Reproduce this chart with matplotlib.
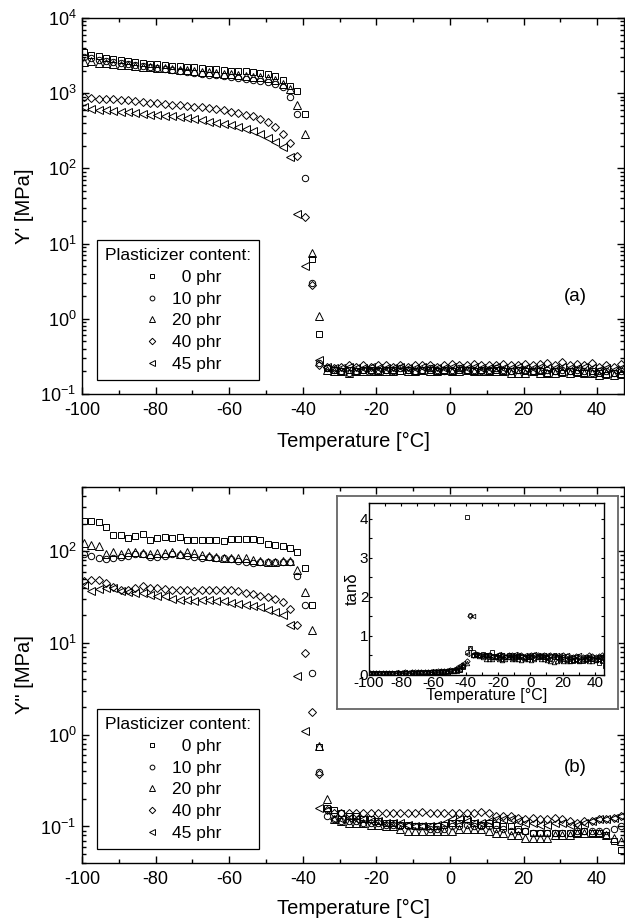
import numpy as np
import matplotlib
matplotlib.use("Agg")
import matplotlib.pyplot as plt
from matplotlib import font_manager
from matplotlib.ticker import MultipleLocator, LogLocator

plt.rcParams['font.family'] = ['Liberation Sans', 'DejaVu Sans']
plt.rcParams['mathtext.fontset'] = 'custom'
plt.rcParams['mathtext.rm'] = 'Liberation Sans'
plt.rcParams['mathtext.it'] = 'Liberation Sans:italic'
plt.rcParams['axes.unicode_minus'] = False

# measurement temperatures [°C]
temps = [-99.5, -97.5, -95.5, -93.5, -91.5, -89.5, -87.5, -85.5, -83.5, -81.5,
         -79.5, -77.5, -75.5, -73.5, -71.5, -69.5, -67.5, -65.5, -63.5, -61.5,
         -59.5, -57.5, -55.5, -53.5, -51.5, -49.5, -47.5, -45.5, -43.5,
         -41.5, -39.5, -37.5, -35.5,
         -33.5, -31.5, -29.5, -27.5, -25.5, -23.5, -21.5, -19.5, -17.5, -15.5,
         -13.5, -11.5, -9.5, -7.5, -5.5, -3.5, -1.5, 0.5, 2.5, 4.5,
         6.5, 8.5, 10.5, 12.5, 14.5, 16.5, 18.5, 20.5, 22.5, 24.5,
         26.5, 28.5, 30.5, 32.5, 34.5, 36.5, 38.5, 40.5, 42.5, 44.5, 46.5]

labels = ["  0 phr", "10 phr", "20 phr", "40 phr", "45 phr"]
nan = np.nan

# storage modulus Y' [MPa]
ystor_0 = [3560, 3220, 3100, 2950, 2850, 2750, 2650, 2600, 2530, 2480,
           2420, 2370, 2330, 2280, 2240, 2200, 2150, 2110, 2080, 2040,
           2000, 1980, 1950, 1920, 1860, 1780, 1680, 1500, 1250,
           1080, 530, 6.3, 0.62,
           0.22, 0.21, 0.20, 0.21, 0.20, 0.21, 0.21, 0.20, 0.21, 0.21,
           0.20, 0.21, 0.20, 0.21, 0.21, 0.20, 0.21, 0.20, 0.21, 0.21,
           0.20, 0.21, 0.20, 0.21, 0.20, 0.20, 0.21, 0.20, 0.20, 0.20,
           0.19, 0.20, 0.19, 0.20, 0.19, 0.19, 0.20, 0.19, 0.18, 0.19, 0.18]
ystor_10 = [3060, 2900, 2780, 2680, 2600, 2520, 2440, 2370, 2300, 2240,
            2180, 2120, 2060, 2000, 1940, 1870, 1800, 1760, 1720, 1680,
            1640, 1600, 1560, 1510, 1470, 1420, 1340, 1200, 880,
            525, 74, 3.0, 0.26,
            0.22, 0.21, 0.20, 0.19, 0.20, 0.21, 0.20, 0.21, 0.21, 0.20,
            0.22, 0.21, 0.20, 0.21, 0.22, 0.21, 0.20, 0.21, 0.22, 0.21,
            0.21, 0.20, 0.21, 0.22, 0.21, 0.20, 0.21, 0.21, 0.20, 0.21,
            0.21, 0.20, 0.21, 0.20, 0.21, 0.20, 0.19, 0.20, 0.20, 0.19, 0.20]
ystor_20 = [2620, 2650, 2560, 2500, 2450, 2400, 2350, 2300, 2260, 2220,
            2180, 2140, 2100, 2060, 2020, 1980, 1940, 1900, 1860, 1820,
            1780, 1740, 1700, 1660, 1620, 1570, 1480, 1320, 1120,
            690, 283, 7.5, 1.1,
            0.21, 0.20, 0.20, 0.19, 0.20, 0.20, 0.20, 0.20, 0.20, 0.20,
            0.21, 0.20, 0.20, 0.21, 0.20, 0.20, 0.21, 0.20, 0.20, 0.21,
            0.20, 0.20, 0.20, 0.20, 0.20, 0.19, 0.19, 0.19, 0.20, 0.19,
            0.19, 0.19, 0.20, 0.19, 0.20, 0.19, 0.19, 0.18, 0.19, 0.18, 0.19]
ystor_40 = [897, 860, 850, 840, 830, 820, 800, 790, 770, 750,
            740, 720, 700, 690, 670, 660, 650, 630, 610, 590,
            560, 545, 520, 500, 460, 410, 350, 285, 215,
            144, 22.5, 2.8, 0.24,
            0.23, 0.22, 0.23, 0.24, 0.23, 0.24, 0.23, 0.24, 0.24, 0.23,
            0.24, 0.23, 0.24, 0.24, 0.24, 0.23, 0.24, 0.25, 0.24, 0.24,
            0.25, 0.24, 0.24, 0.24, 0.25, 0.24, 0.24, 0.25, 0.24, 0.25,
            0.26, 0.24, 0.27, 0.24, 0.25, 0.24, 0.26, 0.23, 0.24, 0.23, 0.25]
ystor_45 = [660, 620, 600, 590, 580, 570, 560, 545, 530, 520,
            510, 500, 490, 480, 465, 450, 435, 420, 405, 390,
            375, 355, 330, 310, 285, 255, 225, 190, 140,
            25, 5.0, nan, 0.28,
            0.23, 0.22, 0.22, 0.23, 0.22, 0.22, 0.23, 0.22, 0.22, 0.22,
            0.23, 0.22, 0.22, 0.23, 0.22, 0.22, 0.22, 0.23, 0.22, 0.22,
            0.23, 0.22, 0.22, 0.23, 0.22, 0.22, 0.23, 0.22, 0.22, 0.23,
            0.22, 0.22, 0.23, 0.22, 0.22, 0.23, 0.22, 0.21, 0.22, 0.21, 0.22]

# loss modulus Y'' [MPa]
yloss_0 = [215, 212, 207, 185, 151, 151, 138, 147, 154, 132,
           139, 141, 139, 144, 133, 133, 133, 133, 133, 129,
           134, 135, 135, 135, 133, 121, 117, 113, 107,
           97, 65, 26, 0.73,
           0.16, 0.15, 0.14, 0.13, 0.13, 0.12, 0.12, 0.115, 0.11, 0.11,
           0.105, 0.105, 0.10, 0.10, 0.10, 0.10, 0.105, 0.11, 0.11, 0.12,
           0.11, 0.105, 0.11, 0.105, 0.10, 0.10, 0.095, 0.09, 0.085, 0.085,
           0.085, 0.085, 0.085, 0.085, 0.085, 0.09, 0.085, 0.085, 0.08, 0.07, 0.055]
yloss_10 = [93, 89, 84, 82, 85, 87, 89, 93, 93, 87,
            87, 89, 93, 91, 89, 87, 85, 87, 85, 85,
            83, 78, 76, 75, 76, 76, 76, 76, 76,
            53, 26, 4.7, 0.39,
            0.13, 0.12, 0.115, 0.115, 0.115, 0.11, 0.11, 0.11, 0.105, 0.105,
            0.10, 0.10, 0.10, 0.10, 0.095, 0.095, 0.095, 0.10, 0.10, 0.105,
            0.10, 0.10, 0.10, 0.095, 0.095, 0.09, 0.09, 0.09, 0.085, 0.085,
            0.085, 0.085, 0.085, 0.085, 0.09, 0.09, 0.09, 0.09, 0.09, 0.095, 0.10]
yloss_20 = [124, 116, 113, 93, 97, 93, 97, 97, 95, 93,
            95, 95, 97, 93, 97, 95, 91, 89, 87, 85,
            84, 84, 84, 80, 78, 77, 77, 78, 78,
            63, 36, 13.7, 0.76,
            0.20, 0.12, 0.115, 0.11, 0.11, 0.11, 0.105, 0.105, 0.10, 0.10,
            0.095, 0.09, 0.09, 0.09, 0.09, 0.09, 0.09, 0.09, 0.095, 0.095,
            0.095, 0.095, 0.09, 0.085, 0.085, 0.08, 0.08, 0.075, 0.075, 0.075,
            0.075, 0.08, 0.08, 0.08, 0.085, 0.085, 0.085, 0.085, 0.08, 0.075, 0.07]
yloss_40 = [47, 48, 49, 44.5, 40.5, 37.6, 38.2, 39.9, 41.6, 39.9,
            39.9, 38.9, 38.2, 38.2, 38.2, 36.6, 37.3, 37.3, 37.3, 37.3,
            37.3, 36.6, 35.2, 34.5, 32.8, 31.7, 30.2, 27.7, 23.6,
            15.8, 7.8, 1.76, 0.37,
            0.15, 0.14, 0.14, 0.14, 0.14, 0.14, 0.14, 0.14, 0.14, 0.14,
            0.14, 0.14, 0.14, 0.145, 0.14, 0.14, 0.14, 0.14, 0.14, 0.14,
            0.14, 0.145, 0.14, 0.13, 0.13, 0.13, 0.125, 0.12, 0.125, 0.12,
            0.12, 0.125, 0.12, 0.115, 0.11, 0.115, 0.115, 0.12, 0.12, 0.125, 0.13]
yloss_45 = [42.3, 36.6, 38.9, 39.9, 39.9, 36.6, 35.7, 35.2, 35.2, 33.7,
            32.3, 32.3, 30.2, 29.7, 29.7, 28.5, 29.7, 29.2, 28.5, 28.5,
            27.3, 26.6, 26.2, 25.1, 24.5, 22.7, 21.6, 20.3, 15.8,
            4.4, 1.1, nan, 0.16,
            0.15, 0.12, 0.12, 0.125, 0.12, 0.12, 0.115, 0.115, 0.11, 0.11,
            0.11, 0.105, 0.10, 0.10, 0.10, 0.105, 0.11, 0.12, 0.12, 0.115,
            0.11, 0.11, 0.115, 0.12, 0.12, 0.12, 0.115, 0.11, 0.11, 0.105,
            0.105, 0.11, 0.11, 0.105, 0.105, 0.11, 0.115, 0.12, 0.12, 0.125, 0.13]

# loss factor tan(delta)
tand_0 = [0.05, 0.05, 0.06, 0.05, 0.05, 0.06, 0.05, 0.06, 0.06, 0.05,
          0.06, 0.06, 0.05, 0.06, 0.06, 0.06, 0.06, 0.07, 0.06, 0.07,
          0.07, 0.07, 0.07, 0.08, 0.08, 0.09, 0.09, 0.11, 0.13,
          0.2, 4.06, 0.68, 0.58,
          0.55, 0.52, 0.55, 0.5, 0.5, 0.6, 0.48, 0.47, 0.5, 0.47,
          0.5, 0.45, 0.46, 0.48, 0.45, 0.44, 0.46, 0.45, 0.43, 0.45,
          0.48, 0.46, 0.44, 0.42, 0.45, 0.47, 0.42, 0.4, 0.38, 0.36,
          0.35, 0.38, 0.36, 0.37, 0.38, 0.4, 0.42, 0.38, 0.3, 0.35, 0.22]
tand_10 = [0.05, 0.05, 0.05, 0.05, 0.06, 0.05, 0.05, 0.06, 0.05, 0.06,
           0.06, 0.05, 0.06, 0.06, 0.06, 0.06, 0.07, 0.06, 0.07, 0.07,
           0.07, 0.08, 0.08, 0.08, 0.09, 0.1, 0.1, 0.12, 0.14,
           0.25, 0.6, 1.54, 0.5,
           0.52, 0.5, 0.48, 0.5, 0.46, 0.45, 0.47, 0.44, 0.42, 0.45,
           0.47, 0.44, 0.43, 0.45, 0.48, 0.46, 0.45, 0.47, 0.5, 0.48,
           0.46, 0.47, 0.45, 0.48, 0.5, 0.46, 0.44, 0.45, 0.42, 0.4,
           0.38, 0.4, 0.38, 0.4, 0.42, 0.44, 0.4, 0.42, 0.45, 0.44, 0.46]
tand_20 = [0.06, 0.06, 0.05, 0.06, 0.05, 0.06, 0.06, 0.05, 0.06, 0.06,
           0.06, 0.06, 0.06, 0.07, 0.06, 0.07, 0.07, 0.07, 0.07, 0.08,
           0.08, 0.08, 0.09, 0.09, 0.1, 0.1, 0.11, 0.13, 0.15,
           0.22, 0.3, 0.70, 0.5,
           0.5, 0.48, 0.45, 0.42, 0.4, 0.42, 0.45, 0.4, 0.38, 0.42,
           0.45, 0.4, 0.42, 0.4, 0.38, 0.42, 0.4, 0.38, 0.42, 0.45,
           0.4, 0.42, 0.38, 0.35, 0.33, 0.36, 0.38, 0.35, 0.37, 0.36,
           0.38, 0.4, 0.36, 0.38, 0.4, 0.37, 0.36, 0.38, 0.4, 0.38, 0.4]
tand_40 = [0.06, 0.05, 0.06, 0.06, 0.06, 0.05, 0.06, 0.06, 0.06, 0.06,
           0.06, 0.07, 0.06, 0.07, 0.07, 0.07, 0.07, 0.07, 0.08, 0.08,
           0.08, 0.09, 0.09, 0.1, 0.11, 0.12, 0.14, 0.17, 0.2,
           0.22, 0.35, 1.52, 0.5,
           0.55, 0.5, 0.52, 0.48, 0.5, 0.47, 0.45, 0.5, 0.48, 0.46,
           0.5, 0.52, 0.48, 0.5, 0.5, 0.46, 0.48, 0.5, 0.52, 0.5,
           0.48, 0.5, 0.46, 0.5, 0.48, 0.45, 0.47, 0.5, 0.48, 0.45,
           0.46, 0.48, 0.45, 0.47, 0.46, 0.5, 0.48, 0.46, 0.48, 0.5, 0.52]
tand_45 = [0.06, 0.06, 0.06, 0.05, 0.06, 0.06, 0.06, 0.06, 0.07, 0.06,
           0.07, 0.07, 0.07, 0.07, 0.07, 0.08, 0.08, 0.08, 0.08, 0.09,
           0.09, 0.1, 0.1, 0.11, 0.12, 0.13, 0.15, 0.18, 0.25,
           0.3, 0.55, nan, 1.5,
           0.5, 0.48, 0.5, 0.52, 0.5, 0.48, 0.5, 0.55, 0.5, 0.48,
           0.5, 0.52, 0.55, 0.5, 0.48, 0.5, 0.52, 0.5, 0.55, 0.52,
           0.5, 0.52, 0.5, 0.48, 0.5, 0.52, 0.5, 0.48, 0.5, 0.47,
           0.45, 0.48, 0.5, 0.46, 0.45, 0.48, 0.47, 0.45, 0.46, 0.48, 0.5]

storage = [ystor_0, ystor_10, ystor_20, ystor_40, ystor_45]
loss = [yloss_0, yloss_10, yloss_20, yloss_40, yloss_45]
tandelta = [tand_0, tand_10, tand_20, tand_40, tand_45]

markers = ['s', 'o', '^', 'D', '<']
msizes = [4.2, 4.6, 5.2, 4.4, 5.2]

W, H = 625, 922
fig = plt.figure(figsize=(W / 100, H / 100), dpi=100)


def px_box(left, top, right, bottom):
    return [left / W, 1 - bottom / H, (right - left) / W, (bottom - top) / H]


def style_main(ax, ylabel, ylim):
    ax.set_yscale('log')
    ax.set_xlim(-100, 47.3)
    ax.set_ylim(*ylim)
    ax.xaxis.set_major_locator(MultipleLocator(20))
    ax.xaxis.set_minor_locator(MultipleLocator(10))
    ax.yaxis.set_major_locator(LogLocator(base=10))
    ax.yaxis.set_minor_locator(LogLocator(base=10, subs=np.arange(2, 10)))
    ax.tick_params(which='both', direction='in', top=True, right=True, width=1)
    ax.tick_params(which='major', length=5, labelsize=13)
    ax.tick_params(which='minor', length=3)
    ax.tick_params(axis='x', pad=6)
    ax.tick_params(axis='y', pad=4)
    for sp in ax.spines.values():
        sp.set_linewidth(1.0)
    ax.set_xlabel('Temperature [°C]', fontsize=14.5)
    ax.set_ylabel(ylabel, fontsize=14.5)
    ax.yaxis.set_label_coords(-0.088, 0.5)


def draw_series(ax, data, ms_scale=1.0, mew=0.7):
    for vals, mk, ms, lab in zip(data, markers, msizes, labels):
        ax.plot(temps, vals, linestyle='none', marker=mk, ms=ms * ms_scale,
                mfc='none', mec='black', mew=mew, label=lab)


def add_legend(ax):
    leg = ax.legend(loc='lower left', bbox_to_anchor=(0.028, 0.038),
                    borderaxespad=0, title='Plasticizer content:',
                    fontsize=12.5, title_fontsize=12.5, frameon=True,
                    fancybox=False, framealpha=1, edgecolor='black',
                    markerscale=0.75, handlelength=2.0, handletextpad=0.2,
                    labelspacing=0.38, borderpad=0.45, numpoints=1)
    leg.get_frame().set_linewidth(0.9)
    return leg


# (a) storage modulus
ax1 = fig.add_axes(px_box(82, 18, 624, 394))
draw_series(ax1, storage)
style_main(ax1, "Y' [MPa]", (0.1, 1e4))
ax1.xaxis.set_label_coords(0.5, -0.1)
add_legend(ax1)
ax1.text(0.911, 0.258, '(a)', transform=ax1.transAxes, fontsize=13.5,
         ha='center', va='center')

# (b) loss modulus
ax2 = fig.add_axes(px_box(82, 487, 624, 863))
draw_series(ax2, loss)
style_main(ax2, 'Y" [MPa]', (0.04, 500))
ax2.xaxis.set_label_coords(0.5, -0.096)
add_legend(ax2)
ax2.text(0.911, 0.253, '(b)', transform=ax2.transAxes, fontsize=13.5,
         ha='center', va='center')

# inset: tan delta
frame = fig.add_axes(px_box(337, 496, 618, 709))
frame.set_xticks([])
frame.set_yticks([])
for sp in frame.spines.values():
    sp.set_linewidth(1.3)
    sp.set_edgecolor('0.4')

names = {f.name for f in font_manager.fontManager.ttflist}
narrow = 'Liberation Sans Narrow' if 'Liberation Sans Narrow' in names else 'Liberation Sans'
inset_family = [narrow, 'DejaVu Sans']

axi = fig.add_axes(px_box(369, 503, 604, 675))
draw_series(axi, tandelta, ms_scale=0.62, mew=0.6)
axi.set_xlim(-100, 45.7)
axi.set_ylim(0, 4.41)
axi.xaxis.set_major_locator(MultipleLocator(20))
axi.xaxis.set_minor_locator(MultipleLocator(10))
axi.yaxis.set_major_locator(MultipleLocator(1))
axi.yaxis.set_minor_locator(MultipleLocator(0.5))
axi.tick_params(which='both', direction='in', top=True, right=True,
                length=2.5, width=0.8, pad=0.5)
for sp in axi.spines.values():
    sp.set_linewidth(1.0)
for lab in axi.get_xticklabels() + axi.get_yticklabels():
    lab.set_fontsize(11)
    lab.set_fontfamily(inset_family)
    lab.set_fontstretch('condensed')
axi.set_xlabel('Temperature [°C]', fontsize=11.5, labelpad=-1,
               fontfamily=inset_family, fontstretch='condensed')
axi.set_ylabel('tanδ', fontsize=12, labelpad=0,
               fontfamily=inset_family, fontstretch='condensed')

fig.savefig('out.png', dpi=100)
